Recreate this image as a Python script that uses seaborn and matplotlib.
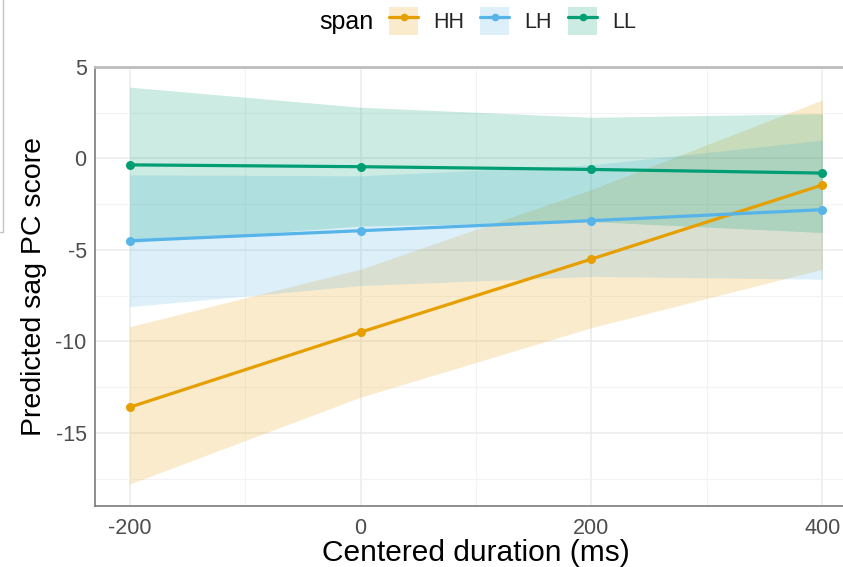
import numpy as np
import pandas as pd
import matplotlib
matplotlib.use("Agg")
import matplotlib.pyplot as plt
import seaborn as sns
from matplotlib.lines import Line2D
from matplotlib.patches import Patch
from matplotlib.ticker import MultipleLocator

# Predicted sag PC score by centered duration, one fit per span type
duration = [-200, 0, 200, 400]
spans = ["HH", "LH", "LL"]

hh_fit = [-13.6, -9.5, -5.5, -1.45]
hh_lo = [-17.8, -13.05, -9.25, -6.05]
hh_hi = [-9.2, -6.05, -1.7, 3.2]

lh_fit = [-4.5, -3.95, -3.4, -2.8]
lh_lo = [-8.1, -6.95, -6.45, -6.6]
lh_hi = [-0.9, -0.95, -0.35, 1.0]

ll_fit = [-0.35, -0.45, -0.6, -0.8]
ll_lo = [-4.6, -3.7, -3.45, -4.05]
ll_hi = [3.9, 2.8, 2.25, 2.45]

x_ticks = [-200, 0, 200, 400]
y_ticks = [-15, -10, -5, 0, 5]

palette = {"HH": "#E69F00", "LH": "#56B4E9", "LL": "#009E73"}

df = pd.DataFrame({
    "duration": duration * len(spans),
    "span": np.repeat(spans, len(duration)),
    "fit": hh_fit + lh_fit + ll_fit,
    "lo": hh_lo + lh_lo + ll_lo,
    "hi": hh_hi + lh_hi + ll_hi,
})

sns.set_style("white")
plt.rcParams["font.family"] = ["Liberation Sans", "DejaVu Sans"]

W, H = 843, 567
fig = plt.figure(figsize=(W / 100, H / 100), dpi=100)
# panel runs a little past the right edge of the canvas
ax = fig.add_axes([95 / W, 61 / H, (857 - 95) / W, (506 - 67) / H])

# confidence ribbons
for s in spans:
    sub = df[df["span"] == s]
    ax.fill_between(sub["duration"], sub["lo"], sub["hi"], color=palette[s],
                    alpha=0.2, linewidth=0, zorder=2)

# fitted lines with points
sns.lineplot(data=df, x="duration", y="fit", hue="span", hue_order=spans,
             palette=palette, marker="o", markersize=6.5, markeredgewidth=0,
             linewidth=2.3, errorbar=None, legend=False, ax=ax, zorder=3)

ax.set_xlim(-230, 430)
ax.set_ylim(-19, 5)
ax.set_xticks(x_ticks)
ax.set_xticklabels([str(v) for v in x_ticks])
ax.set_yticks(y_ticks)
ax.set_yticklabels([str(v) for v in y_ticks])
ax.xaxis.set_minor_locator(MultipleLocator(100))
ax.yaxis.set_minor_locator(MultipleLocator(2.5))

ax.grid(True, which="major", color="#EBEBEB", linewidth=1.1, zorder=0)
ax.grid(True, which="minor", color="#F3F3F3", linewidth=0.8, zorder=0)
ax.set_axisbelow(True)

ax.tick_params(axis="both", which="major", direction="out", length=3.5,
               width=1.0, color="#7a7a7a", labelsize=15.5,
               labelcolor="#4D4D4D", pad=2.5)
ax.tick_params(axis="both", which="minor", length=0)
ax.tick_params(axis="x", pad=5)

for side in ["left", "bottom"]:
    ax.spines[side].set_color("#7a7a7a")
    ax.spines[side].set_linewidth(1.2)
ax.spines["top"].set_color("#BDBDBD")
ax.spines["top"].set_linewidth(2.0)
ax.spines["right"].set_visible(False)

ax.set_xlabel("Centered duration (ms)", fontsize=21.5, color="black", labelpad=0)
ax.set_ylabel("Predicted sag PC score", fontsize=20.5, color="black", labelpad=6)

# legend across the top: title on the left, ribbon-backed keys
fig.text(319 / W, 1 - 22 / H, "span", fontsize=18, ha="left", va="center",
         color="black")
handles = [(Patch(facecolor=palette[s], alpha=0.2, edgecolor="none"),
            Line2D([], [], color=palette[s], linewidth=2.3, marker="o",
                   markersize=5.5, markeredgewidth=0))
           for s in spans]
fig.legend(handles, spans, loc="center left",
           bbox_to_anchor=(389 / W, 1 - 21 / H), bbox_transform=fig.transFigure,
           ncol=3, frameon=False, fontsize=15.5, handlelength=1.35,
           handleheight=1.63, handletextpad=0.7, columnspacing=0.75,
           borderpad=0, borderaxespad=0)

# thin frame edge along the left margin
fig.add_artist(Line2D([2.5 / W, 2.5 / W], [1, 1 - 232 / H],
                      transform=fig.transFigure, color="#C4C4C4", linewidth=1))
fig.add_artist(Line2D([0, 2.5 / W], [1 - 232 / H, 1 - 232 / H],
                      transform=fig.transFigure, color="#C4C4C4", linewidth=1))

fig.savefig("out.png", dpi=100)
